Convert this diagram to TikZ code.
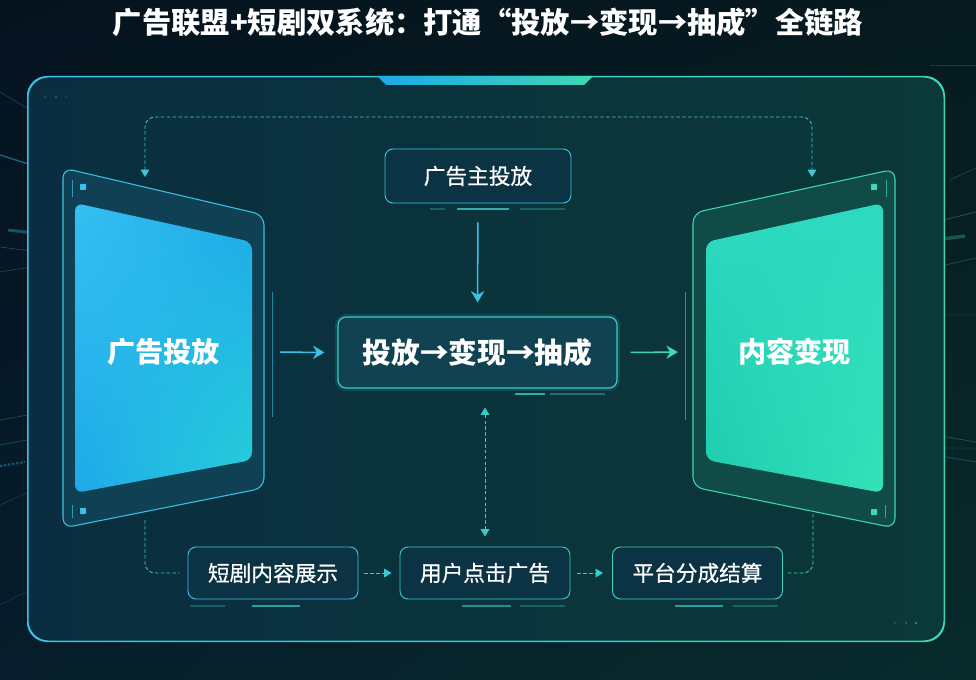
\documentclass[tikz,border=0pt]{standalone}
\usepackage{fontspec}
\setmainfont{Noto Sans CJK SC}
\newfontfamily\cjkmed{Noto Sans CJK SC}[FakeBold=0.6]
\usetikzlibrary{positioning, arrows.meta, calc, shadings}
\definecolor{bgTL}{HTML}{05131F}
\definecolor{bgTR}{HTML}{061A1F}
\definecolor{bgBL}{HTML}{071D2B}
\definecolor{bgBR}{HTML}{082B2C}
\definecolor{frameL}{HTML}{0A2E40}
\definecolor{frameR}{HTML}{0B3838}
\definecolor{accC}{HTML}{3CC0E8}
\definecolor{accT}{HTML}{38CCC8}
\definecolor{accG}{HTML}{3ED8B4}
\definecolor{boxF}{HTML}{0B3344}
\definecolor{scrA}{HTML}{35C0F2}
\definecolor{scrB}{HTML}{1EA9E8}
\definecolor{scrC}{HTML}{25D0D8}
\definecolor{scrD}{HTML}{2DD9C0}
\definecolor{scrE}{HTML}{20CCAE}
\definecolor{scrF}{HTML}{32E2B8}
\tikzset{
  dtip/.tip     ={Triangle[length=2.2mm, width=2.6mm]},
  card/.style   ={rounded corners=2.4mm, line width=0.8pt, text=white,
                  align=center, inner sep=0pt},
  Lstep/.style  ={card, fill=boxF, minimum width=51mm, minimum height=15.6mm,
                  font=\cjkmed\fontsize{18.5}{20}\selectfont},
  Ladv/.style   ={card, fill=boxF, draw=accC!85!accG, minimum width=55.8mm,
                  minimum height=16.2mm, font=\cjkmed\fontsize{18.5}{20}\selectfont},
  Lloop/.style  ={card, fill=boxF!90!accT, draw=accT, line width=1pt,
                  minimum width=83.7mm, minimum height=21.3mm,
                  font=\bfseries\fontsize{24.5}{26}\selectfont,
                  preaction={draw=accT, line width=5pt, opacity=0.15}},
  Lpanel/.style ={text=white, font=\bfseries\fontsize{24}{26}\selectfont,
                  minimum width=60.3mm, inner sep=0pt},
  flow/.style   ={-{Stealth[length=3.4mm, width=4mm, inset=1.1mm]}, line width=1.3pt},
  dashlink/.style={dash pattern=on 3pt off 2pt, line width=0.7pt, accC!70!accG},
  glint/.style  ={accC, line width=0.6pt},
}
\begin{document}
\begin{tikzpicture}[x=0.3mm, y=-0.3mm]

% --- background ---
\shade[upper left=bgTL, upper right=bgTR, lower left=bgBL, lower right=bgBR]
  (0,0) rectangle (976,680);
\useasboundingbox (0,0) rectangle (976,680);

% --- side glints ---
\draw[glint, opacity=0.25] (0,92) -- (55,125);
\draw[glint, opacity=0.45, line width=1.2pt] (0,155) -- (85,182);
\draw[glint, opacity=0.35, line width=2.5pt] (8,230) -- (60,236);
\draw[glint, opacity=0.3] (0,247) -- (70,256);
\draw[glint, opacity=0.25] (0,272) -- (60,262);
\draw[glint, opacity=0.3] (0,420) -- (65,408);
\draw[glint, opacity=0.3] (0,445) -- (70,432);
\draw[glint, opacity=0.35, line width=2pt, dash pattern=on 2pt off 1.5pt] (0,466) -- (25,462);
\draw[glint, opacity=0.2] (0,505) -- (110,455);
\draw[glint, opacity=0.15] (0,605) -- (70,570);
\draw[glint, accG, opacity=0.3] (840,140) -- (897,108);
\draw[glint, accG, opacity=0.25] (950,180) -- (976,168);
\draw[glint, accG, opacity=0.35] (895,232) -- (976,212);
\draw[glint, accG, opacity=0.3, line width=3pt] (890,246) -- (965,236);
\draw[glint, accG, opacity=0.3] (932,268) -- (976,258);
\draw[glint, accG, opacity=0.15, rounded corners=2pt] (932,315) rectangle (990,448);
\draw[glint, accG, opacity=0.3] (905,430) -- (976,442);
\draw[glint, accG, opacity=0.3] (905,450) -- (976,462);
\draw[glint, accG, opacity=0.2] (930,65) -- (976,65);

% --- outer frame ---
\shade[left color=frameL, right color=frameR, rounded corners=6mm]
  (27,76) rectangle (945,642);
\shade[left color=accC, right color=accG, even odd rule, rounded corners=6mm]
  (27,76) rectangle (945,642) (28.5,77.5) rectangle (943.5,640.5);
\shade[left color=scrB, right color=accG] (377,76) -- (593,76) -- (584,85) -- (386,85) -- cycle;
\foreach \x/\o in {45/0.2, 56/0.3, 66/0.15}
  \fill[accC, opacity=\o] (\x,97) circle (1.5);
\foreach \x/\o in {895/0.2, 906/0.25, 916/0.5}
  \fill[accG, opacity=\o] (\x,623) circle (1.5);

% --- title ---
\node[font=\bfseries\fontsize{25}{28}\selectfont, text=white] (title) at (488,22)
  {广告联盟+短剧双系统：打通“投放→变现→抽成”全链路};

% --- left panel ---
\draw[accC, line width=0.9pt, fill=frameL!88!accC, rounded corners=3mm]
  (63,168) -- (264,215) -- (264,488) -- (63,528) -- cycle;
\shade[upper left=scrA, upper right=scrB, lower left=scrB, lower right=scrC, rounded corners=2.4mm]
  (75,203) -- (252,242) -- (252,460) -- (75,493) -- cycle;
\fill[accC, rounded corners=0.5pt] (80,184) rectangle (86,190);
\fill[accC, rounded corners=0.5pt] (80,508) rectangle (86,514);
\draw[accC, line width=0.6pt, opacity=0.7] (72,180) -- (72,197);
\draw[accC, line width=0.6pt, opacity=0.7] (72,505) -- (72,518);
\draw[accC, line width=0.6pt, opacity=0.6] (272,292) -- (272,417);

% --- right panel ---
\draw[accG, line width=0.9pt, fill=frameR!88!accG, rounded corners=3mm]
  (693,213) -- (895,169) -- (895,528) -- (693,487) -- cycle;
\shade[upper left=scrD, upper right=scrD, lower left=scrE, lower right=scrF, rounded corners=2.4mm]
  (706,242) -- (883,203) -- (883,493) -- (706,460) -- cycle;
\fill[accG, rounded corners=0.5pt] (871,184) rectangle (877,190);
\fill[accG, rounded corners=0.5pt] (871,509) rectangle (877,515);
\draw[accG, line width=0.6pt, opacity=0.7] (886,180) -- (886,197);
\draw[accG, line width=0.6pt, opacity=0.7] (885,505) -- (885,518);
\draw[accG, line width=0.6pt, opacity=0.6] (685,292) -- (685,420);

% --- nodes ---
\node[Lpanel] (ad) at (163.5,352) {广告投放};
\node[Lpanel] (cv) at (794.5,352) {内容变现};
\node[Ladv] (adv) at (478,176) {广告主投放};
\node[Lloop] (loop) at (477.5,352.5) {投放→变现→抽成};
\node[Lstep, draw=accC!90!accG] (show) at (273,573) {短剧内容展示};
\node[Lstep, draw=accT] (click) at (485,573) {用户点击广告};
\node[Lstep, draw=accG!90!accC] (settle) at (697.5,573) {平台分成结算};

% --- underline marks ---
\foreach \a/\b/\y/\o in {430/445/209/0.3, 457/509/209/0.8, 520/565/209/0.3,
                         515/545/394/0.8, 550/605/394/0.4,
                         190/225/606/0.3, 252/300/606/0.7,
                         462/511/606/0.6, 520/565/606/0.3,
                         675/723/606/0.7, 733/778/606/0.3}
  \draw[accT, line width=1pt, opacity=\o] (\a,\y) -- (\b,\y);

% --- connectors ---
\coordinate (adtop) at (145,177);
\coordinate (cvtop) at (812,177);
\coordinate (bus) at (478,117);
\coordinate (adfoot) at (145,520);
\coordinate (cvfoot) at (813,513);

\draw[dashlink, dtip-dtip, rounded corners=3mm]
  (adtop) -- (adtop |- bus) -- (cvtop |- bus) -- (cvtop);
\draw[flow, accC, shorten <=5.7mm, shorten >=4.2mm] (adv.south) -- (loop.north);
\draw[flow, accC, shorten <=4.8mm, shorten >=3.9mm] (ad.east) -- (loop.west);
\draw[flow, accG, shorten <=3.9mm, shorten >=4.8mm] (loop.east) -- (cv.west);
\draw[dashlink, dtip-dtip, accT, shorten <=5.7mm, shorten >=3mm]
  (loop.south -| click.north) -- (click.north);
\draw[dashlink, -dtip, shorten <=1.8mm, shorten >=2.4mm] (show) -- (click);
\draw[dashlink, -dtip, accT, shorten <=2.1mm, shorten >=2.7mm] (click) -- (settle);
\draw[dashlink, rounded corners=3mm, shorten >=2.4mm] (adfoot) |- (show.west);
\draw[dashlink, accG, rounded corners=3mm, shorten <=1.5mm] (settle.east) -| (cvfoot);

\end{tikzpicture}
\end{document}
